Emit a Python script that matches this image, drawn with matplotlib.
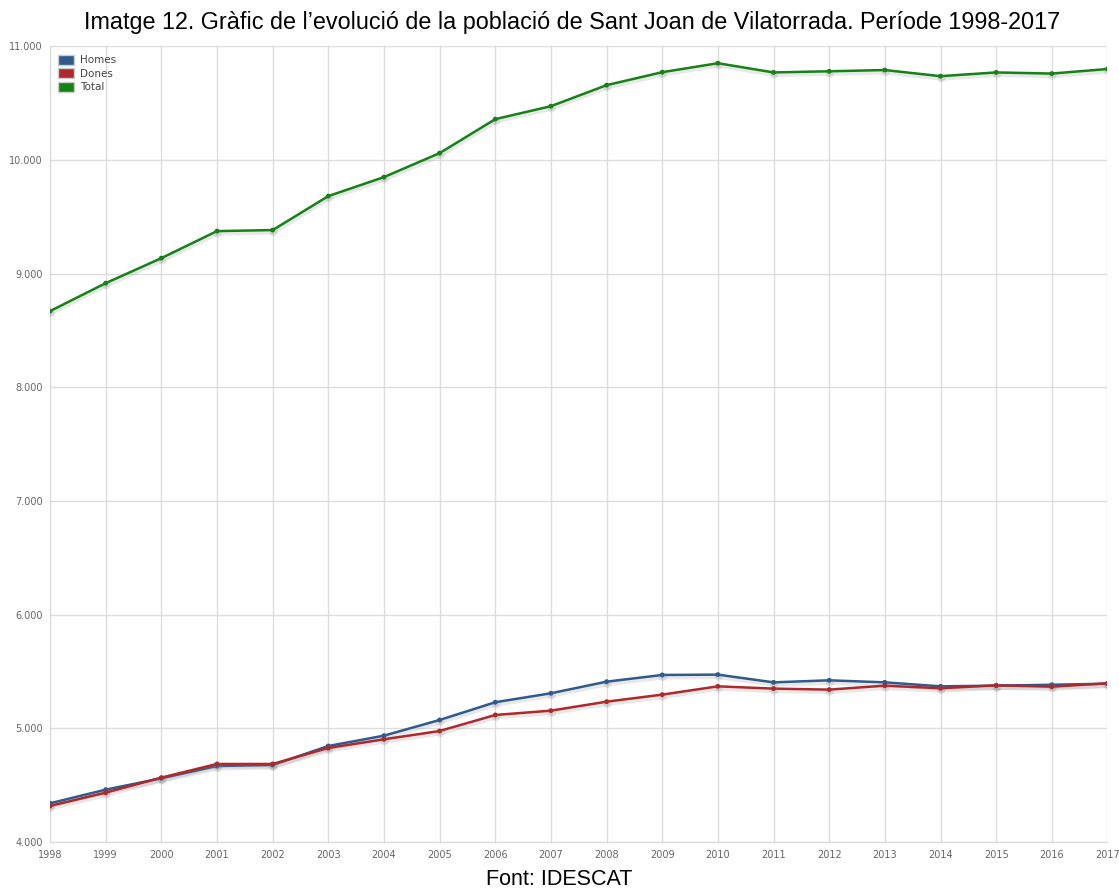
import matplotlib
matplotlib.use("Agg")
import matplotlib.pyplot as plt
import matplotlib.patheffects as pe
from matplotlib.patches import Patch
from matplotlib.ticker import FuncFormatter

years = list(range(1998, 2018))
homes = [4340, 4460, 4560, 4668, 4677, 4844, 4935, 5073, 5229, 5308,
         5410, 5469, 5472, 5404, 5422, 5404, 5369, 5375, 5383, 5392]
dones = [4317, 4434, 4566, 4686, 4686, 4827, 4903, 4976, 5117, 5155,
         5234, 5296, 5369, 5349, 5340, 5375, 5352, 5378, 5366, 5396]
total = [8670, 8916, 9136, 9374, 9383, 9682, 9849, 10060, 10359, 10473,
         10658, 10772, 10851, 10770, 10780, 10791, 10737, 10770, 10760, 10800]

series = [("Homes", homes, "#2e5b8c"), ("Dones", dones, "#b0282c"), ("Total", total, "#148214")]

fig = plt.figure(figsize=(11.19, 8.9), dpi=100)
ax = fig.add_axes([0.0447, 0.054, 0.945, 0.894])

shadow = [pe.SimpleLineShadow(offset=(0.5, -1.5), shadow_color="gray", alpha=0.18, linewidth=3.5), pe.Normal()]
for name, vals, col in series:
    ax.plot(years, vals, color=col, lw=1.8, marker="o", ms=2.5, path_effects=shadow, zorder=3)

ax.set_xlim(1998, 2017)
ax.set_ylim(4000, 11000)
ax.set_xticks(years)
ax.set_yticks(range(4000, 11001, 1000))
ax.yaxis.set_major_formatter(FuncFormatter(lambda v, p: f"{int(v):,}".replace(",", ".")))
ax.grid(True, color="#dddddd", lw=1)
ax.tick_params(length=0, labelsize=7, labelcolor="#666666")
ax.tick_params(axis="x", pad=6)
ax.tick_params(axis="y", pad=5)
for s in ["top", "right"]:
    ax.spines[s].set_visible(False)
for s in ["left", "bottom"]:
    ax.spines[s].set_color("#d8d8d8")

handles = [Patch(facecolor=c, edgecolor="#cccccc", label=n) for n, v, c in series]
ax.legend(handles=handles, loc="upper left", frameon=False, fontsize=7.5,
          labelcolor="#444444", handlelength=1.5, handleheight=1.1,
          borderaxespad=0.4, labelspacing=0.3, handletextpad=0.6)

fig.text(0.511, 0.975, "Imatge 12. Gràfic de l\u2019evolució de la població de Sant Joan de Vilatorrada. Període 1998-2017",
         ha="center", va="center", fontsize=16.8, family="Liberation Sans")
fig.text(0.5, 0.012, "Font: IDESCAT", ha="center", va="center", fontsize=15.5, family="Liberation Sans")

fig.savefig("out.png", dpi=100)
